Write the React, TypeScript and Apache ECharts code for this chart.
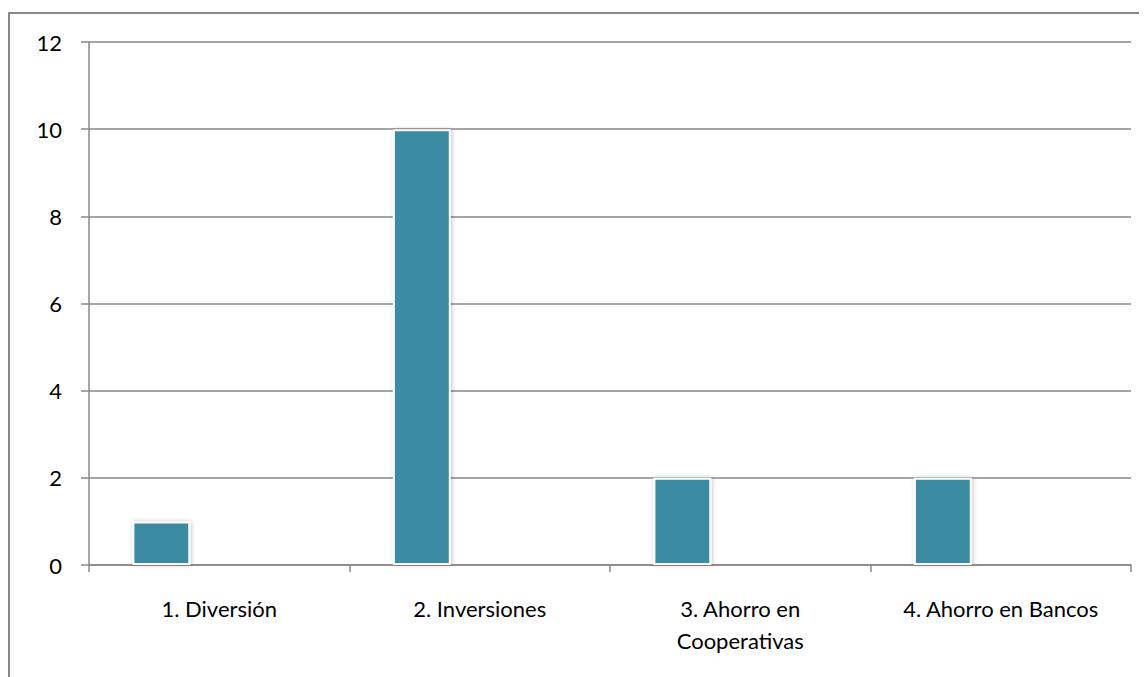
import React, { useEffect, useRef } from "react";
import * as echarts from "echarts";

const categories = [
  "1. Diversión",
  "2. Inversiones",
  "3. Ahorro en\nCooperativas",
  "4. Ahorro en Bancos",
];
const values = [1, 10, 2, 2];
const yTicks = { min: 0, max: 12, interval: 2 };

const barColor = "#3b8ba3";
const lineGray = "#888888";
const fontFamily = "Lato, 'Open Sans', sans-serif";

export default function App() {
  const ref = useRef<HTMLDivElement>(null);

  useEffect(() => {
    if (!ref.current) return;
    const chart = echarts.init(ref.current, null, { renderer: "svg" });
    chart.setOption({
      animation: false,
      backgroundColor: "#ffffff",
      textStyle: { fontFamily },
      graphic: [
        {
          type: "rect",
          shape: { x: 1, y: 5, width: 1400, height: 1000 },
          style: { fill: "none", stroke: lineGray, lineWidth: 2 },
          silent: true,
        },
      ],
      grid: { left: 81, top: 34, right: 16, bottom: 112, containLabel: false },
      xAxis: {
        type: "category",
        data: categories,
        axisLine: { lineStyle: { color: lineGray, width: 1.5 } },
        axisTick: { show: true, length: 7, lineStyle: { color: lineGray, width: 1.5 } },
        axisLabel: {
          color: "#000",
          fontSize: 22,
          fontFamily,
          margin: 27,
          lineHeight: 32,
          verticalAlign: "top",
          interval: 0,
        },
      },
      yAxis: {
        type: "value",
        min: yTicks.min,
        max: yTicks.max,
        interval: yTicks.interval,
        axisLine: { show: true, lineStyle: { color: lineGray, width: 1.5 } },
        axisTick: { show: true, length: 8, lineStyle: { color: lineGray, width: 1.5 } },
        axisLabel: { color: "#000", fontSize: 22, fontFamily, margin: 27 },
        splitLine: { show: true, lineStyle: { color: lineGray, width: 1.5 } },
      },
      series: [
        {
          type: "bar",
          data: values,
          barGap: "0%",
          barCategoryGap: "33.3%",
          itemStyle: {
            color: barColor,
            borderColor: "#ffffff",
            borderWidth: 2,
            shadowBlur: 4,
            shadowColor: "rgba(0,0,0,0.25)",
            shadowOffsetX: 1,
            shadowOffsetY: 0,
          },
        },
        { type: "bar", data: [] },
        { type: "bar", data: [] },
      ],
    });
    return () => chart.dispose();
  }, []);

  return <div ref={ref} style={{ width: 1139, height: 669 }} />;
}
